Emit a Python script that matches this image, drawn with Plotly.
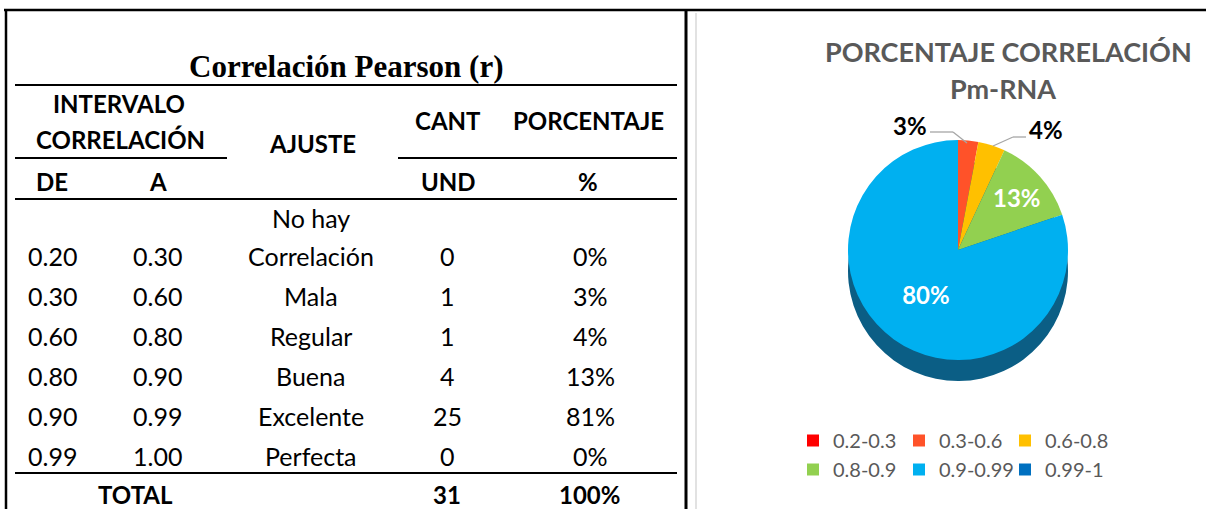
import plotly.graph_objects as go

# ---------------- data ----------------
de_vals = ["0.20", "0.30", "0.60", "0.80", "0.90", "0.99"]
a_vals = ["0.30", "0.60", "0.80", "0.90", "0.99", "1.00"]
ajuste = ["No hay Correlación", "Mala", "Regular", "Buena", "Excelente", "Perfecta"]
cant = [0, 1, 1, 4, 25, 0]
porcentaje = ["0%", "3%", "4%", "13%", "81%", "0%"]
total_cant = 31
total_pct = "100%"

pie_labels = ["0.2-0.3", "0.3-0.6", "0.6-0.8", "0.8-0.9", "0.9-0.99", "0.99-1"]
pie_values = [0, 0.03, 0.04, 0.13, 0.81, 0]
pie_colors = ["#FF0000", "#FF5229", "#FFC000", "#92D050", "#00B0F0", "#0070C0"]
shadow_color = "#0B5E85"

table_title = "Correlación Pearson (r)"
chart_title = "PORCENTAJE CORRELACIÓN"
chart_subtitle = "Pm-RNA"

# ---------------- geometry helpers (pixels -> paper) ----------------
W, H = 1206, 509
ML, MR, MT, MB = 790, 76, 0, 0
PW, PH = W - ML - MR, H - MT - MB


def X(px):
    return (px - ML) / PW


def Y(py):
    return 1 - (py - MT) / PH


SANS = "Lato, 'Open Sans', sans-serif"
SERIF = "'Liberation Serif', 'Times New Roman', serif"

fig = go.Figure()

# pie "depth" (darker copy, shifted down) then the pie itself
cx, cy, R, depth = 958, 250, 110, 21
fig.add_trace(go.Pie(
    labels=pie_labels, values=pie_values, sort=False, direction="clockwise",
    rotation=0, marker=dict(colors=[shadow_color] * len(pie_values)),
    textinfo="none", showlegend=False, hoverinfo="skip",
    domain=dict(x=[X(cx - R), X(cx + R)], y=[Y(cy + depth + R), Y(cy + depth - R)]),
))
fig.add_trace(go.Pie(
    labels=pie_labels, values=pie_values, sort=False, direction="clockwise",
    rotation=0, marker=dict(colors=pie_colors),
    texttemplate=["", "", "", "%{percent:.0%}", "%{percent:.0%}", ""],
    textposition="inside", insidetextorientation="horizontal",
    insidetextfont=dict(family=SANS, size=24, color="white", weight="bold"),
    domain=dict(x=[X(cx - R), X(cx + R)], y=[Y(cy + R), Y(cy - R)]),
))

# ---------------- table lines ----------------
lines = [
    (4, 10, W, 10, 2.5, "black"),          # top border
    (6, 10, 6, H, 2.5, "black"),           # left border
    (686, 10, 686, H, 3, "black"),         # right border of table
    (15, 85, 677, 85, 2, "black"),         # under title
    (15, 158, 227, 158, 2, "black"),       # under INTERVALO CORRELACIÓN
    (398, 158, 677, 158, 2, "black"),      # under CANT/PORCENTAJE
    (15, 199, 677, 199, 2, "black"),       # under DE/A row
    (15, 473, 677, 473, 2, "black"),       # above TOTAL
    (696, 13, 696, H, 1.5, "#D9D9D9"),     # chart area border
    # leader lines for the small outside labels
    (930, 132, 953, 132, 1.3, "#A6A6A6"),
    (953, 132, 967, 143, 1.3, "#A6A6A6"),
    (1026, 137, 1013, 137, 1.3, "#A6A6A6"),
    (1013, 137, 993, 146, 1.3, "#A6A6A6"),
]
for x0, y0, x1, y1, w, c in lines:
    fig.add_shape(type="line", xref="paper", yref="paper",
                  x0=X(x0), y0=Y(y0), x1=X(x1), y1=Y(y1),
                  line=dict(color=c, width=w))


def txt(x, y, s, size=25, bold=False, family=SANS, color="black", xanchor="center"):
    fig.add_annotation(x=X(x), y=Y(y), xref="paper", yref="paper", text=s,
                       showarrow=False, xanchor=xanchor, yanchor="middle",
                       font=dict(family=family, size=size, color=color,
                                 weight="bold" if bold else "normal"))


HB = 24  # header font size

# headers
txt(346, 67, table_title, size=31, bold=True, family=SERIF)
txt(119, 104, "INTERVALO", size=HB, bold=True)
txt(120, 140, "CORRELACIÓN", size=HB, bold=True)
txt(312, 143, "AJUSTE", size=HB, bold=True)
txt(448, 121, "CANT", size=HB, bold=True)
txt(588, 121, "PORCENTAJE", size=HB, bold=True)
txt(52, 181, "DE", size=HB, bold=True)
txt(158, 181, "A", size=HB, bold=True)
txt(448, 181, "UND", size=HB, bold=True)
txt(588, 181, "%", size=HB, bold=True)

# rows
row_y = [256, 296, 336, 376, 416, 456]
for i, yy in enumerate(row_y):
    txt(52, yy, de_vals[i])
    txt(157, yy, a_vals[i])
    parts = ajuste[i].split(" ")
    if len(parts) > 1:
        txt(311, yy - 38, " ".join(parts[:-1]))
        txt(311, yy, parts[-1])
    else:
        txt(311, yy, ajuste[i])
    txt(447, yy, str(cant[i]))
    txt(590, yy, porcentaje[i])

txt(135, 494, "TOTAL", size=HB, bold=True)
txt(447, 494, str(total_cant), size=HB, bold=True)
txt(589, 494, total_pct, size=HB, bold=True)

# chart titles
txt(1008, 51, chart_title, size=27, bold=True, color="#595959")
txt(1003, 89, chart_subtitle, size=27, bold=True, color="#595959")

# outside labels for the small slices (percent computed from the data)
tot = sum(pie_values)
for idx, lx, ly in [(1, 910, 126), (2, 1046, 129)]:
    txt(lx, ly, f"{round(pie_values[idx] / tot * 100)}%", size=24, bold=True)

fig.update_layout(
    width=W, height=H,
    margin=dict(l=ML, r=MR, t=MT, b=MB),
    paper_bgcolor="white", plot_bgcolor="white",
    showlegend=True,
    legend=dict(orientation="h", x=X(793), y=Y(421), xanchor="left", yanchor="top",
                font=dict(family=SANS, size=20, color="#595959"),
                entrywidth=61, entrywidthmode="pixels", itemwidth=30,
                bgcolor="rgba(0,0,0,0)", traceorder="normal"),
)

fig.write_html("out.html",
               config={"displayModeBar": False},
               post_script="document.body.style.margin='0';"
                           "document.body.style.overflow='hidden';")
